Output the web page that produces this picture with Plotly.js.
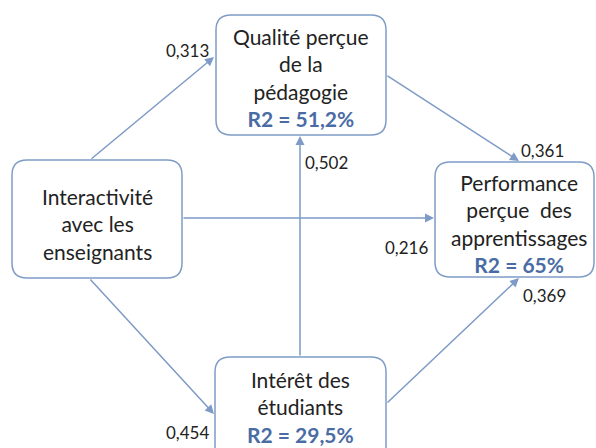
<!DOCTYPE html>
<html>
<head>
<meta charset="utf-8">
<script src="https://cdn.plot.ly/plotly-3.0.1.min.js"></script>
<style>html,body{margin:0;padding:0;background:#fff;}#chart{width:596px;height:448px;}</style>
</head>
<body>
<div id="chart"></div>
<script>
// ---- data ----
const nodeIds = ["inter", "qual", "interet", "perf"];
const nodeLabels = [
  "Interactivité<br>avec les<br>enseignants",
  "Qualité perçue<br>de la<br>pédagogie",
  "Intérêt des<br>étudiants",
  "Performance<br>perçue  des<br>apprentissages"
];
const r2Values = [null, "51,2%", "29,5%", "65%"];
const pathFrom = ["inter", "qual", "inter", "interet", "inter", "interet"];
const pathTo   = ["qual", "perf", "perf", "qual", "interet", "perf"];
const pathCoefs = ["0,313", "0,361", "0,216", "0,502", "0,454", "0,369"];

// ---- geometry (layout only) ----
const boxGeom = {
  inter:   {x0: 12,  y0: 160, x1: 182, y1: 278, cx: 97,  cy: 224},
  qual:    {x0: 216, y0: 15,  x1: 386, y1: 135, cx: 301, cy: 77},
  interet: {x0: 215, y0: 357, x1: 386, y1: 464, cx: 300, cy: 407},
  perf:    {x0: 435, y0: 162, x1: 594, y1: 277, cx: 519, cy: 223}
};
const arrowGeom = [
  {tx: 90,  ty: 160, hx: 214, hy: 57},
  {tx: 386, ty: 75,  hx: 519, hy: 161},
  {tx: 182, ty: 218, hx: 434, hy: 218},
  {tx: 300, ty: 357, hx: 300, hy: 136},
  {tx: 89,  ty: 278, hx: 214, hy: 414},
  {tx: 386, ty: 404, hx: 519, hy: 278}
];
const coefPos = [
  {x: 187, y: 50}, {x: 542, y: 150}, {x: 406, y: 247},
  {x: 326, y: 162}, {x: 187, y: 432}, {x: 544, y: 295}
];

const FONT = "Lato, 'Open Sans', sans-serif";
const BORDER = "#7f9cc6";
const ARROW = "#7d9bc6";
const R2COL = "#4a6ca5";

function roundRect(b, r) {
  const {x0, y0, x1, y1} = b;
  return `M${x0 + r},${y0} H${x1 - r} Q${x1},${y0} ${x1},${y0 + r} V${y1 - r} Q${x1},${y1} ${x1 - r},${y1} ` +
         `H${x0 + r} Q${x0},${y1} ${x0},${y1 - r} V${y0 + r} Q${x0},${y0} ${x0 + r},${y0} Z`;
}

const shapes = nodeIds.map(id => ({
  type: "path", xref: "x", yref: "y", path: roundRect(boxGeom[id], 15),
  line: {color: BORDER, width: 1.5}, fillcolor: "#ffffff", layer: "above"
}));

const annotations = [];
// arrows
pathFrom.forEach((f, i) => {
  const g = arrowGeom[i];
  annotations.push({
    x: g.hx, y: g.hy, ax: g.tx, ay: g.ty, xref: "x", yref: "y", axref: "x", ayref: "y",
    showarrow: true, arrowhead: 2, arrowsize: 1.2, arrowwidth: 1.5, arrowcolor: ARROW,
    standoff: 0, startstandoff: 0, text: ""
  });
});
// node labels
nodeIds.forEach((id, i) => {
  const g = boxGeom[id];
  let t = nodeLabels[i];
  if (r2Values[i]) t += `<br><b><span style="color:${R2COL}">R2 = ${r2Values[i]}</span></b>`;
  annotations.push({
    x: g.cx, y: g.cy, xref: "x", yref: "y", text: t, showarrow: false,
    xanchor: "center", yanchor: "middle", align: "center",
    font: {family: FONT, size: 21, color: "#222222"}
  });
});
// coefficients
pathCoefs.forEach((c, i) => {
  annotations.push({
    x: coefPos[i].x, y: coefPos[i].y, xref: "x", yref: "y", text: c, showarrow: false,
    xanchor: "center", yanchor: "middle", font: {family: FONT, size: 17, color: "#222222"}
  });
});

const layout = {
  width: 596, height: 448,
  margin: {l: 0, r: 0, t: 0, b: 0},
  paper_bgcolor: "#ffffff", plot_bgcolor: "#ffffff",
  xaxis: {range: [0, 596], visible: false, fixedrange: true},
  yaxis: {range: [448, 0], visible: false, fixedrange: true},
  showlegend: false,
  shapes: shapes,
  annotations: annotations
};

Plotly.newPlot("chart", [{x: [], y: [], type: "scatter", mode: "markers", hoverinfo: "skip"}], layout,
  {staticPlot: true, displayModeBar: false});
</script>
</body>
</html>
